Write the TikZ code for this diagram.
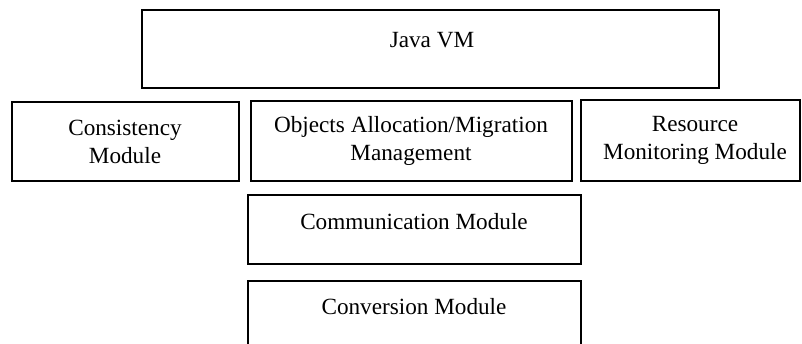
\documentclass[tikz,border=0pt]{standalone}
\usepackage{fontspec}
\setmainfont{Liberation Serif}
\usepackage{tikz}

\begin{document}
\begin{tikzpicture}[x=0.025cm, y=-0.025cm,
        box/.style={draw=black, line width=1pt},
        lbl/.style={align=center, font=\fontsize{16.5}{20}\selectfont, inner sep=0pt}]
            \useasboundingbox (0,0) rectangle (802,343);
            \clip (0,0) rectangle (802,343);

            % top layer
            \draw[box] (142,10) rectangle (719,88);
            \node[lbl] (jvm) at (432,40) {Java VM};

            % middle layer
            \draw[box] (12,102) rectangle (239,181);
            \node[lbl] (cons) at (125,142) {Consistency\\Module};

            \draw[box] (251,101) rectangle (572,181);
            \node[lbl] (alloc) at (411,141) {Objects Allocation/Migration\\Management};

            \draw[box] (581,100) rectangle (800,181);
            \node[lbl] (res) at (695,140) {Resource\\Monitoring Module};

            % lower layers
            \draw[box] (248,195) rectangle (581,264);
            \node[lbl] (comm) at (414,222) {Communication Module};

            \draw[box] (248,350) -- (248,281) -- (581,281) -- (581,350);
            \node[lbl] (conv) at (414,307) {Conversion Module};
        \end{tikzpicture}
\end{document}
